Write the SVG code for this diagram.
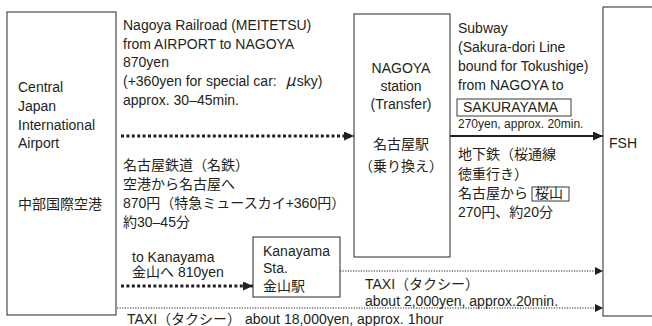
<svg xmlns="http://www.w3.org/2000/svg" width="652" height="326" viewBox="0 0 652 326">
<style>
text{font-family:"Liberation Sans","Noto Sans CJK JP",Arial,sans-serif;font-size:14px;fill:#231f20}
.sm{font-size:12px}
.box{fill:#fff;stroke:#3a3a3a;stroke-width:1.1}
.thick{stroke:#231f20;stroke-width:3;stroke-dasharray:3 2.4;fill:none}
.thin{stroke:#231f20;stroke-width:1;stroke-dasharray:1.2 1.4;fill:none}
.solid{stroke:#231f20;stroke-width:2;fill:none}
.mid{text-anchor:middle}
.mu{font-family:"Noto Sans CJK JP","Liberation Sans",sans-serif;font-style:italic;font-size:16px}
</style>
<defs>
<marker id="ah" markerWidth="10" markerHeight="9" refX="10" refY="4.5" orient="auto" markerUnits="userSpaceOnUse"><path d="M0,0 L10,4.5 L0,9 Z" fill="#231f20"/></marker>
<marker id="ahs" markerWidth="8" markerHeight="8" refX="8" refY="4" orient="auto" markerUnits="userSpaceOnUse"><path d="M0,0 L8,4 L0,8 Z" fill="#231f20"/></marker>
</defs>
<g id="connectors">
<line class="thick" x1="121" y1="136" x2="354" y2="136" marker-end="url(#ah)"/>
<line class="solid" x1="450" y1="136" x2="603" y2="136" marker-end="url(#ah)"/>
<line class="thick" x1="121" y1="286" x2="253" y2="286" marker-end="url(#ah)"/>
<line class="thin" x1="340" y1="271" x2="603" y2="271" marker-end="url(#ahs)"/>
<line class="thin" x1="117" y1="308" x2="603" y2="308" marker-end="url(#ahs)"/>
</g>
<g id="airport">
<rect class="box" x="7" y="12" width="109" height="303"/>
<text x="18" y="92">Central</text>
<text x="18" y="111">Japan</text>
<text x="18" y="130">International</text>
<text x="18" y="148">Airport</text>
<text x="18" y="209">中部国際空港</text>
</g>
<g id="nagoya">
<rect class="box" x="354" y="14" width="96" height="243"/>
<text class="mid" x="401" y="73">NAGOYA</text>
<text class="mid" x="401" y="91">station</text>
<text class="mid" x="401" y="109">(Transfer)</text>
<text class="mid" x="401" y="149">名古屋駅</text>
<text class="mid" x="401" y="171">（乗り換え）</text>
</g>
<g id="kanayama">
<rect class="box" x="253" y="237" width="87" height="60"/>
<text x="263" y="256">Kanayama</text>
<text x="263" y="273">Sta.</text>
<text x="263" y="291">金山駅</text>
</g>
<g id="fsh">
<rect class="box" x="603" y="7" width="60" height="309"/>
<text x="609" y="148">FSH</text>
</g>
<g id="labels">
<text x="123" y="30">Nagoya Railroad (MEITETSU)</text>
<text x="123" y="48.5">from AIRPORT to NAGOYA</text>
<text x="123" y="67">870yen</text>
<text x="123" y="86">(+360yen for special car: <tspan class="mu" dx="5">μ</tspan><tspan dx="1">sky)</tspan></text>
<text x="123" y="105">approx. 30–45min.</text>
<text x="123" y="170">名古屋鉄道（名鉄）</text>
<text x="123" y="189">空港から名古屋へ</text>
<text x="123" y="208">870円（特急ミュースカイ+360円）</text>
<text x="123" y="227">約30–45分</text>
<text x="132" y="262">to Kanayama</text>
<text x="132" y="277">金山へ 810yen</text>
<text x="458" y="33">Subway</text>
<text x="458" y="52">(Sakura-dori Line</text>
<text x="458" y="71">bound for Tokushige)</text>
<text x="458" y="90">from NAGOYA to</text>
<rect x="457" y="99" width="114" height="17" fill="none" stroke="#3a3a3a" stroke-width="1"/>
<text x="463" y="112">SAKURAYAMA</text>
<text class="sm" x="458" y="128">270yen, approx. 20min.</text>
<text x="458" y="159">地下鉄（桜通線</text>
<text x="458" y="179">徳重行き）</text>
<text x="458" y="198">名古屋から</text>
<rect x="532" y="187" width="37" height="14" fill="none" stroke="#3a3a3a" stroke-width="1"/>
<text x="535" y="198">桜山</text>
<text x="458" y="217">270円、約20分</text>
<text x="365" y="289">TAXI（タクシー）</text>
<text x="365" y="306">about 2,000yen, approx.20min.</text>
<text x="127" y="324">TAXI（タクシー） about 18,000yen, approx. 1hour</text>
</g>
</svg>
